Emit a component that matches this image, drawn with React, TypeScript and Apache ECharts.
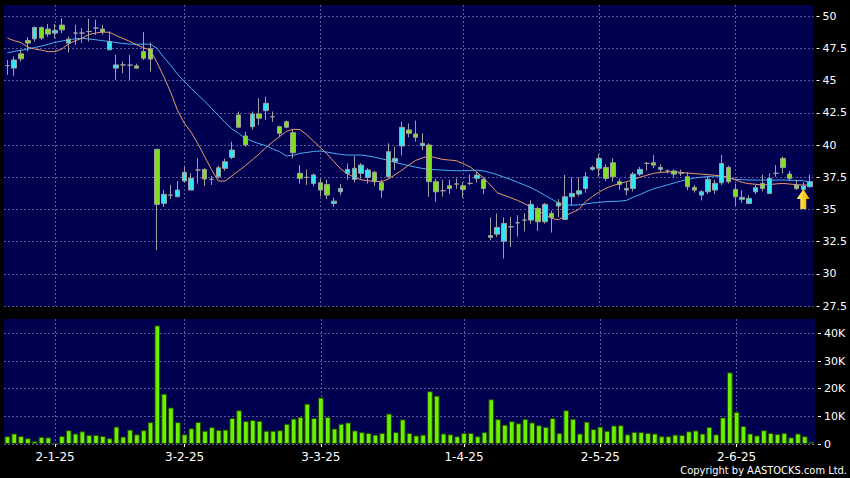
import React, { useEffect, useRef } from 'react';
import * as echarts from 'echarts';

// Trading days (year, month, days)
const MONTH_DAYS: [number, number, number[]][] = [
  [24, 12, [19, 20, 23, 24, 27, 30, 31]],
  [25, 1, [2, 3, 6, 7, 8, 9, 10, 13, 14, 15, 16, 17, 20, 21, 22, 23, 24, 27, 28]],
  [25, 2, [3, 4, 5, 6, 7, 10, 11, 12, 13, 14, 17, 18, 19, 20, 21, 24, 25, 26, 27, 28]],
  [25, 3, [3, 4, 5, 6, 7, 10, 11, 12, 13, 14, 17, 18, 19, 20, 21, 24, 25, 26, 27, 28, 31]],
  [25, 4, [1, 2, 3, 4, 7, 8, 9, 10, 11, 14, 15, 16, 17, 22, 23, 24, 25, 28, 29, 30]],
  [25, 5, [2, 6, 7, 8, 9, 12, 13, 14, 15, 16, 19, 20, 21, 22, 23, 26, 27, 28, 29, 30]],
  [25, 6, [2, 3, 4, 5, 6, 9, 10, 11, 12, 13, 16, 17]],
];
const CATEGORIES: string[] = [];
MONTH_DAYS.forEach(([y, m, days]) => days.forEach((d) => CATEGORIES.push(`${d}-${m}-${y}`)));

const TICK_LABELS = ['2-1-25', '3-2-25', '3-3-25', '1-4-25', '2-5-25', '2-6-25'];
const PRICE_TICKS = [27.5, 30, 32.5, 35, 37.5, 40, 42.5, 45, 47.5, 50];
const VOLUME_TICKS = [0, 10000, 20000, 30000, 40000];

// [open, close, low, high]
const CANDLES: number[][] = [
  [46.17, 46.17, 45.45, 46.6], [45.97, 46.6, 45.37, 46.87], [47.08, 46.69, 46.48, 47.39], [48.11, 47.91, 47.26, 48.38],
  [48.24, 49.12, 48.03, 49.2], [49.12, 48.3, 48.17, 49.2], [49.0, 48.61, 48.4, 49.4], [48.69, 48.89, 48.3, 49.4],
  [49.31, 48.94, 48.69, 49.85], [47.91, 48.22, 47.18, 48.42], [48.69, 48.69, 47.78, 49.33], [48.69, 48.69, 47.91, 49.08],
  [48.81, 48.81, 48.03, 49.8], [49.08, 49.08, 48.55, 49.72], [49.0, 48.77, 48.55, 49.33], [47.39, 48.03, 47.39, 48.81],
  [45.97, 46.22, 45.05, 47.0], [46.22, 46.22, 45.58, 46.48], [46.2, 46.2, 45.05, 47.0], [46.14, 45.97, 45.9, 46.3],
  [47.26, 46.74, 46.6, 48.77], [47.47, 46.67, 45.7, 47.96], [39.67, 35.39, 31.83, 39.67], [35.47, 36.17, 35.2, 36.5],
  [36.11, 36.11, 35.8, 36.9], [35.98, 36.5, 35.98, 37.2], [37.2, 37.88, 37.1, 38.3], [36.5, 37.41, 36.5, 37.8],
  [38.06, 38.06, 37.0, 38.97], [38.1, 37.36, 36.8, 38.2], [37.33, 37.33, 36.9, 37.6], [37.53, 38.23, 37.4, 38.4],
  [38.19, 38.7, 38.0, 38.95], [39.04, 39.61, 38.9, 40.26], [42.33, 41.38, 41.3, 42.6], [40.7, 40.0, 39.87, 41.03],
  [41.42, 42.41, 41.2, 42.6], [42.41, 42.08, 41.55, 43.63], [42.67, 43.24, 41.94, 43.76], [42.2, 42.2, 41.8, 42.6],
  [41.42, 40.91, 40.6, 41.5], [41.81, 41.38, 41.3, 41.9], [40.96, 39.4, 38.96, 41.17], [37.8, 37.41, 37.0, 38.44],
  [37.49, 37.49, 36.9, 38.1], [37.02, 37.67, 36.8, 37.8], [37.07, 36.5, 36.0, 37.4], [36.94, 36.11, 35.8, 37.3],
  [35.46, 35.64, 35.2, 35.93], [36.37, 36.63, 36.1, 36.97], [37.8, 38.11, 37.3, 38.57], [37.33, 38.19, 37.1, 39.14],
  [37.8, 38.44, 37.4, 38.6], [37.49, 38.06, 37.0, 38.2], [37.88, 37.15, 36.8, 38.0], [37.07, 36.5, 35.9, 37.3],
  [37.53, 39.48, 37.4, 40.13], [38.7, 38.96, 38.06, 39.87], [39.92, 41.37, 39.2, 41.81], [41.17, 40.91, 40.6, 41.67],
  [40.86, 40.6, 40.26, 41.9], [39.95, 40.13, 39.6, 40.9], [40.0, 37.15, 35.98, 40.13], [37.15, 36.37, 35.6, 37.4],
  [36.45, 36.45, 36.0, 37.3], [36.83, 36.63, 36.2, 37.3], [36.97, 36.97, 36.6, 37.4], [36.83, 36.55, 35.9, 37.1],
  [37.02, 37.02, 36.9, 37.7], [37.41, 37.67, 37.1, 37.9], [37.33, 36.63, 36.2, 37.5], [32.97, 32.83, 32.6, 34.37],
  [33.08, 33.6, 32.87, 34.69], [32.53, 33.91, 31.19, 34.37], [33.65, 33.65, 32.09, 34.42], [33.96, 33.96, 32.9, 34.55],
  [34.17, 34.17, 33.3, 34.7], [34.17, 35.39, 33.9, 35.7], [35.07, 34.04, 33.33, 35.2], [34.04, 35.39, 33.9, 35.5],
  [34.69, 34.37, 33.2, 34.9], [35.26, 35.51, 34.4, 35.8], [34.22, 35.98, 34.17, 37.67], [35.98, 36.24, 35.3, 37.5],
  [36.19, 36.45, 36.0, 37.5], [36.63, 37.53, 36.3, 37.9], [38.11, 38.26, 38.0, 38.4], [38.19, 38.96, 37.53, 39.3],
  [38.26, 37.41, 37.2, 38.5], [38.62, 37.53, 37.15, 38.96], [37.15, 36.94, 36.5, 37.4], [36.5, 36.63, 36.1, 37.1],
  [36.63, 37.74, 36.4, 37.9], [37.74, 38.11, 37.6, 38.3], [38.57, 38.57, 38.0, 38.7], [38.62, 38.44, 38.2, 39.22],
  [38.11, 38.26, 37.9, 38.5], [37.98, 37.98, 37.8, 38.1], [37.98, 37.74, 37.5, 38.1], [37.8, 37.8, 37.6, 38.1],
  [37.53, 36.76, 36.5, 37.9], [36.71, 36.5, 36.3, 36.9], [36.11, 36.37, 35.7, 36.5], [36.37, 37.33, 36.2, 37.6],
  [36.5, 37.02, 36.2, 37.3], [37.07, 38.57, 36.9, 39.22], [38.26, 37.15, 37.0, 38.4], [36.55, 35.98, 35.26, 37.0],
  [35.78, 35.93, 35.5, 36.5], [35.46, 35.85, 35.4, 36.1], [36.37, 36.68, 36.2, 36.9], [37.02, 36.63, 36.4, 37.7],
  [36.24, 37.41, 36.2, 37.8], [37.8, 37.8, 37.53, 38.44], [38.96, 38.26, 37.8, 39.1], [37.74, 37.41, 37.2, 38.0],
  [36.89, 36.63, 36.5, 37.3], [36.55, 36.81, 36.5, 37.1], [36.76, 37.15, 36.7, 37.7],
];

const MA10 = [
  48.3, 48.1, 47.95, 47.6, 47.45, 47.37, 47.25, 47.25, 47.45, 47.85, 48.1, 48.3, 48.58, 48.7, 48.77, 48.75,
  48.5, 48.27, 48.04, 47.78, 47.55, 47.38, 46.4, 45.3, 44.1, 42.7, 41.7, 41.0, 40.1, 39.1, 38.1, 37.2,
  37.2, 37.6, 38.0, 38.4, 38.85, 39.3, 39.8, 40.25, 40.65, 41.05, 41.22, 41.2, 40.8, 40.3, 39.8, 39.3,
  38.7, 38.15, 37.75, 37.5, 37.3, 37.22, 37.18, 37.15, 37.35, 37.7, 38.05, 38.45, 38.8, 39.0, 39.14, 39.0,
  38.88, 38.83, 38.78, 38.55, 38.3, 37.9, 37.45, 36.9, 36.3, 36.1, 35.9, 35.7, 35.45, 35.2, 34.9, 34.6,
  34.3, 34.2, 34.5, 34.75, 35.0, 35.6, 36.0, 36.35, 36.65, 36.85, 37.0, 37.15, 37.3, 37.5, 37.65, 37.8,
  37.88, 37.9, 37.93, 37.88, 37.82, 37.78, 37.74, 37.7, 37.65, 37.6, 37.5, 37.3, 37.1, 37.0, 36.95, 36.9,
  36.93, 36.98, 37.02, 36.97, 36.92, 36.89, 36.89,
];

const MA20 = [
  47.15, 47.27, 47.35, 47.45, 47.57, 47.68, 47.82, 47.97, 48.07, 48.17, 48.25, 48.29, 48.23, 48.17, 48.1, 48.04,
  47.95, 47.88, 47.83, 47.83, 47.83, 47.83, 47.5, 46.8, 46.2, 45.5, 44.95, 44.4, 43.9, 43.4, 42.85, 42.3,
  41.75, 41.25, 40.9, 40.5, 40.3, 40.1, 39.95, 39.7, 39.48, 39.15, 39.2, 39.35, 39.42, 39.5, 39.53, 39.45,
  39.35, 39.27, 39.22, 39.22, 39.22, 39.15, 39.05, 38.93, 38.8, 38.65, 38.52, 38.4, 38.28, 38.18, 38.12, 38.08,
  38.05, 38.02, 38.0, 38.0, 38.02, 38.05, 37.98, 37.85, 37.7, 37.5, 37.32, 37.1, 36.9, 36.68, 36.4, 36.1,
  35.8, 35.5, 35.35, 35.33, 35.35, 35.42, 35.5, 35.55, 35.6, 35.62, 35.64, 35.7, 35.95, 36.15, 36.4, 36.6,
  36.75, 36.9, 37.05, 37.2, 37.32, 37.44, 37.5, 37.55, 37.59, 37.55, 37.45, 37.33, 37.3, 37.29, 37.28, 37.28,
  37.28, 37.28, 37.28, 37.27, 37.25, 37.22, 37.15,
];

const VOLUME = [
  2800, 3800, 2900, 2100, 1000, 2600, 2400, 500, 2900, 5000, 3800, 4600, 3300, 3300, 2900, 2100,
  6300, 2700, 5200, 3500, 5000, 7900, 42900, 18200, 13200, 7900, 3500, 5700, 8000, 4800, 6100, 5100,
  5200, 9400, 12200, 8300, 8700, 8400, 4800, 4800, 5000, 7300, 9200, 9800, 14600, 9400, 16800, 9800,
  5600, 7300, 7800, 4900, 4300, 4000, 3400, 4000, 11000, 4300, 8900, 4000, 3100, 3400, 19100, 17500,
  3800, 3500, 2800, 4000, 4000, 2800, 4300, 16200, 9000, 7000, 8300, 7500, 9100, 7800, 6800, 6200,
  9400, 4000, 12200, 9100, 3800, 8100, 5400, 6300, 4800, 6700, 6800, 3500, 4400, 4300, 4000, 3800,
  2800, 2800, 3400, 3300, 4600, 4900, 3800, 6200, 3500, 9600, 25900, 11600, 6500, 3800, 3100, 5000,
  4000, 3600, 4000, 2400, 3800, 2800, 800,
];

const ARROW_INDEX = 117;
const ARROW_PRICE = 35.8;

const FONT = '"DejaVu Sans", sans-serif';
const FONT_COND = '"DejaVu Sans Condensed", "DejaVu Sans", sans-serif';
const GRID_LINE = { color: '#5A5A96', width: 1, type: [2, 2] as number[] };
const isTick = (_i: number, v: string) => TICK_LABELS.includes(v);

export default function App() {
  const ref = useRef<HTMLDivElement>(null);
  useEffect(() => {
    document.body.style.margin = '0';
    document.body.style.background = '#000';
    const chart = echarts.init(ref.current!, null, { renderer: 'svg' });
    chart.setOption({
      animation: false,
      backgroundColor: '#000000',
      grid: [
        { left: 4, top: 5, width: 811, height: 301, show: true, backgroundColor: '#000050', borderWidth: 0 },
        { left: 4, top: 319, width: 811, height: 125, show: true, backgroundColor: '#000050', borderWidth: 0 },
      ],
      xAxis: [
        {
          type: 'category', gridIndex: 0, data: CATEGORIES, boundaryGap: true,
          axisLine: { show: false }, axisTick: { show: false }, axisLabel: { show: false },
          splitLine: { show: true, interval: isTick, alignWithLabel: true, lineStyle: GRID_LINE },
        },
        {
          type: 'category', gridIndex: 1, data: CATEGORIES, boundaryGap: true, offset: 2,
          axisLine: { show: false },
          axisTick: { show: true, alignWithLabel: true, interval: isTick, length: 3, lineStyle: { color: '#ffffff' } },
          axisLabel: { interval: isTick, color: '#ffffff', fontFamily: FONT, fontSize: 12, margin: 5 },
          splitLine: { show: true, interval: isTick, alignWithLabel: true, lineStyle: GRID_LINE },
        },
      ],
      yAxis: [
        {
          type: 'value', gridIndex: 0, position: 'right', min: 27.5, max: 50.87, offset: 3,
          axisLine: { show: false },
          axisTick: { show: true, length: 3, customValues: PRICE_TICKS, lineStyle: { color: '#ffffff' } },
          axisLabel: { customValues: PRICE_TICKS, color: '#ffffff', margin: 6, fontSize: 11, fontFamily: FONT },
          splitLine: { show: true, lineStyle: GRID_LINE },
        },
        {
          type: 'value', gridIndex: 1, position: 'right', min: 0, max: 45200, offset: 3,
          axisLine: { show: false },
          axisTick: { show: true, length: 3, customValues: VOLUME_TICKS, lineStyle: { color: '#ffffff' } },
          axisLabel: {
            customValues: VOLUME_TICKS, color: '#ffffff', margin: 6, fontSize: 11, fontFamily: FONT,
            formatter: (v: number) => (v === 0 ? '0' : `${v / 1000}K`),
          },
          splitLine: { show: true, lineStyle: GRID_LINE },
        },
      ],
      series: [
        {
          type: 'line', xAxisIndex: 0, yAxisIndex: 0, data: MA20, symbol: 'none', z: 2,
          lineStyle: { color: '#46B0F5', width: 1 },
        },
        {
          type: 'line', xAxisIndex: 0, yAxisIndex: 0, data: MA10, symbol: 'none', z: 2,
          lineStyle: { color: '#E89A6A', width: 1 },
        },
        {
          type: 'candlestick', xAxisIndex: 0, yAxisIndex: 0, data: CANDLES, barWidth: 5, z: 3,
          itemStyle: {
            color: '#30E6F2', color0: '#80E020', borderColor: '#A0A0A0', borderColor0: '#A0A0A0', borderWidth: 1,
          },
          markPoint: {
            silent: true,
            data: [
              {
                coord: [CATEGORIES[ARROW_INDEX], ARROW_PRICE],
                symbol: 'path://M6.5,0L13,10L9.5,10L9.5,20L3.5,20L3.5,10L0,10Z',
                symbolSize: [13, 20],
                itemStyle: {
                  color: new echarts.graphic.LinearGradient(0, 0, 1, 0, [
                    { offset: 0, color: '#FFF59A' },
                    { offset: 0.5, color: '#FFD21E' },
                    { offset: 1, color: '#E09A00' },
                  ]),
                },
                label: { show: false },
              },
            ],
          },
        },
        {
          type: 'bar', xAxisIndex: 1, yAxisIndex: 1, data: VOLUME, barCategoryGap: '16%',
          itemStyle: { color: '#6CF000', borderColor: '#1E4A00', borderWidth: 1 },
        },
      ],
      graphic: [
        {
          type: 'text', right: 3, top: 465,
          style: { text: 'Copyright by AASTOCKS.com Ltd.', fill: '#ffffff', font: `11px ${FONT_COND}` },
        },
      ],
    });
    return () => chart.dispose();
  }, []);
  return <div ref={ref} style={{ width: 850, height: 478 }} />;
}
